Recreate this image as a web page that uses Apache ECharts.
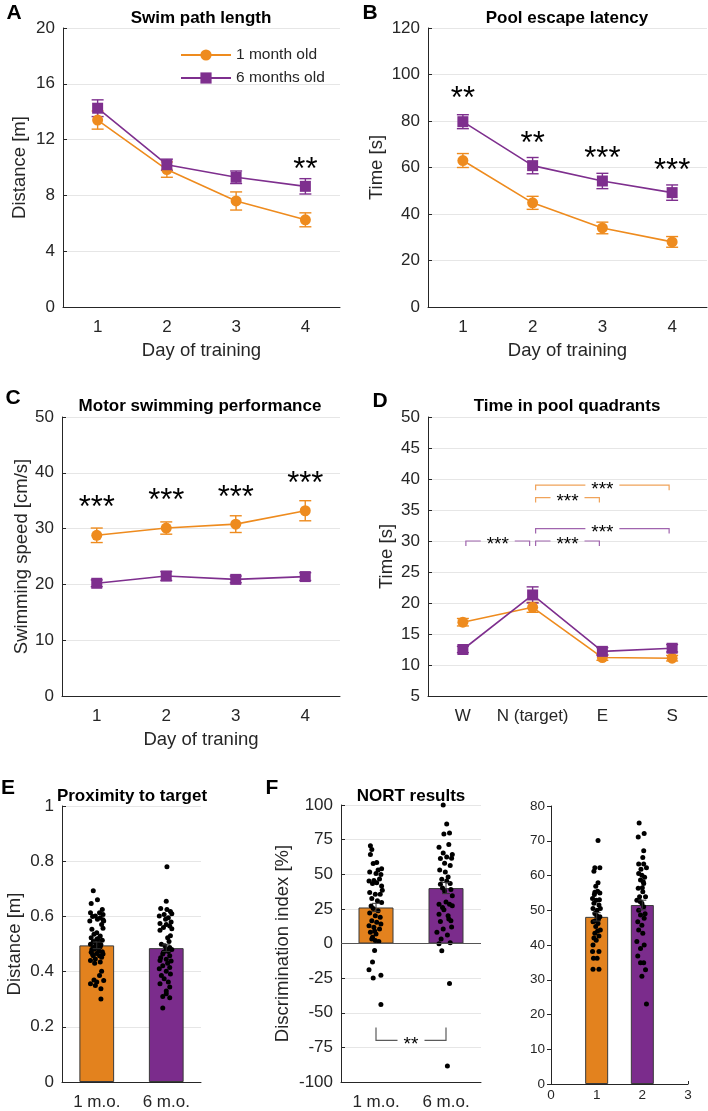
<!DOCTYPE html>
<html lang="en">
<head>
    <meta charset="UTF-8">
    <title>Water maze and NORT</title>
    <script type="text/javascript" src="https://cdn.jsdelivr.net/npm/echarts@6/dist/echarts.min.js"></script>
    <style>
        html, body { margin: 0; padding: 0; background: #fff; }
    </style>
</head>
<body>
<div id="main" style="width: 708px; height: 1111px;"></div>
<script type="text/javascript">
    // ---- data ----
    var days = ['1', '2', '3', '4'];
    var quadrants = ['W', 'N (target)', 'E', 'S'];
    var groups = ['1 m.o.', '6 m.o.'];

    // A: swim path length [m]
    var pathOne = [13.4, 9.85, 7.6, 6.25];
    var pathOneErr = [0.65, 0.55, 0.65, 0.5];
    var pathSix = [14.25, 10.2, 9.3, 8.65];
    var pathSixErr = [0.6, 0.4, 0.45, 0.55];
    var pathStarDay = [3];
    var pathStarY = [10.3];
    var pathStarTxt = ['**'];

    // B: escape latency [s]
    var latOne = [63.0, 44.8, 34.0, 28.0];
    var latOneErr = [3.0, 2.8, 2.5, 2.3];
    var latSix = [79.7, 60.8, 54.2, 49.2];
    var latSixErr = [3.0, 3.5, 3.3, 3.3];
    var latStarDay = [0, 1, 2, 3];
    var latStarY = [92.0, 72.7, 66.2, 61.2];
    var latStarTxt = ['**', '**', '***', '***'];

    // C: swimming speed [cm/s]
    var speedOne = [28.8, 30.1, 30.8, 33.2];
    var speedOneErr = [1.3, 1.1, 1.5, 1.8];
    var speedSix = [20.2, 21.5, 20.9, 21.4];
    var speedSixErr = [0.6, 0.8, 0.6, 0.7];
    var speedStarDay = [0, 1, 2, 3];
    var speedStarY = [34.8, 36.1, 36.7, 39.1];
    var speedStarTxt = ['***', '***', '***', '***'];

    // D: time in quadrants [s]
    var quadOne = [16.9, 19.3, 11.2, 11.1];
    var quadOneErr = [0.6, 0.8, 0.45, 0.45];
    var quadSix = [12.5, 21.3, 12.2, 12.7];
    var quadSixErr = [0.5, 1.3, 0.6, 0.6];
    // [from, y, to]
    var quadBracketsOne = [[1, 39, 3], [1, 37, 2]];
    var quadBracketsSix = [[1, 32, 3], [1, 30, 2], [0, 30, 1]];
    var quadBracketTxt = '***';

    // E: proximity to target [m]
    var proxMean = [0.495, 0.485];
    var proxErr = [0.012, 0.012];
    var proxDotsOne = [[-0.05,0.693],[0.01,0.660],[-0.08,0.647],[0.08,0.625],[-0.09,0.613],[0.04,0.613],[0.09,0.607],
        [-0.02,0.601],[0.05,0.595],[0.09,0.588],[-0.10,0.583],[0.10,0.583],[0.01,0.590],[-0.06,0.600],[0.07,0.571],
        [-0.07,0.553],[0.09,0.557],[0.00,0.541],[-0.04,0.535],[0.05,0.529],[-0.08,0.523],[0.02,0.520],[0.00,0.517],
        [0.08,0.514],[-0.05,0.509],[0.03,0.505],[-0.01,0.500],[-0.09,0.499],[-0.02,0.493],[0.06,0.497],[0.05,0.490],
        [-0.05,0.487],[0.02,0.484],[-0.07,0.480],[-0.04,0.481],[0.03,0.475],[0.08,0.472],[-0.08,0.470],[0.00,0.466],
        [0.09,0.464],[-0.06,0.462],[-0.05,0.457],[0.04,0.457],[0.07,0.452],[-0.02,0.446],[-0.09,0.440],[0.05,0.435],
        [-0.03,0.430],[0.07,0.401],[0.04,0.386],[-0.04,0.370],[0.10,0.368],[0.00,0.362],[-0.09,0.356],[-0.02,0.350],
        [0.06,0.338],[0.06,0.301]];
    var proxDotsSix = [[0.01,0.780],[0.00,0.655],[-0.08,0.629],[0.01,0.625],[0.06,0.618],[-0.10,0.601],[-0.03,0.607],
        [0.03,0.595],[0.08,0.610],[-0.01,0.590],[0.07,0.580],[-0.09,0.574],[0.00,0.571],[0.05,0.565],[-0.04,0.560],
        [-0.09,0.550],[0.08,0.555],[0.02,0.523],[0.06,0.530],[-0.07,0.499],[0.04,0.509],[-0.02,0.494],[0.00,0.481],
        [0.05,0.487],[0.08,0.480],[-0.04,0.470],[0.03,0.473],[-0.05,0.464],[0.05,0.457],[-0.08,0.450],[-0.09,0.440],
        [0.00,0.445],[0.07,0.438],[0.02,0.430],[-0.05,0.421],[0.05,0.415],[-0.10,0.410],[0.00,0.401],[-0.07,0.386],
        [0.06,0.391],[-0.03,0.374],[0.03,0.362],[-0.09,0.356],[0.05,0.344],[0.00,0.330],[0.00,0.320],[-0.05,0.310],
        [0.05,0.305],[-0.05,0.268]];

    // F: NORT discrimination index [%]
    var nortMean = [26, 40];
    var nortErr = [3, 4];
    var nortDotsOne = [[-0.08,70.6],[-0.06,67.8],[-0.08,64.2],[-0.04,57.8],[0.01,58.5],[0.08,53.9],[0.03,53.0],
        [-0.09,51.6],[0.00,50.6],[0.07,49.9],[-0.03,45.5],[0.05,46.5],[-0.10,45.1],[-0.05,43.4],[0.01,43.9],
        [0.08,41.5],[0.09,38.5],[-0.09,36.8],[-0.01,35.6],[0.06,35.6],[-0.06,32.5],[0.02,30.8],[0.08,29.6],
        [-0.07,27.0],[-0.04,25.3],[0.03,23.6],[-0.09,22.0],[-0.01,20.0],[0.06,18.9],[-0.06,16.5],[0.01,15.3],
        [0.07,14.0],[-0.10,12.9],[-0.03,11.7],[0.05,10.5],[-0.02,9.0],[-0.08,8.1],[0.00,6.9],[-0.05,4.5],
        [-0.06,3.3],[-0.01,2.1],[0.04,1.5],[-0.02,-5.0],[-0.05,-13.4],[-0.10,-18.9],[-0.04,-24.9],[0.07,-23.0],
        [0.07,-44.0]];
    var nortDotsSix = [[-0.04,100],[0.01,86.2],[-0.03,79.0],[0.05,79.7],[0.04,71.4],[-0.10,69.5],[-0.04,65.4],
        [0.09,64.2],[0.01,62.5],[0.08,61.5],[-0.08,61.3],[-0.02,58.0],[0.06,56.3],[-0.09,53.0],[-0.01,51.6],
        [0.03,48.0],[-0.06,46.3],[0.01,45.1],[0.06,43.4],[-0.08,42.7],[-0.05,40.0],[0.07,39.0],[-0.02,37.9],
        [0.09,34.4],[0.00,30.0],[-0.10,28.4],[0.05,28.4],[0.09,27.2],[-0.05,26.0],[-0.03,24.3],[-0.10,21.2],
        [0.03,20.0],[0.04,17.7],[0.07,16.5],[-0.08,15.8],[0.08,12.0],[-0.04,10.5],[-0.13,8.1],[0.02,6.2],
        [-0.07,3.3],[0.06,0.5],[-0.10,-0.2],[-0.06,-5.2],[0.05,-28.9],[0.02,-88.5]];
    var nortBracket = [[0, -70, 1]];
    var nortBracketTxt = '**';

    // F (right): second NORT measure
    var nortRawX = [1, 2];
    var nortRawMean = [48.1, 51.5];
    var nortRawErr = [1.2, 1.4];
    var nortRawDotsOne = [[0.03,70.1],[-0.04,62.2],[0.07,62.2],[-0.06,61.2],[0.03,57.9],[-0.02,56.9],[0.02,55.5],
        [-0.04,55.2],[0.07,55.0],[-0.05,54.5],[-0.09,53.4],[0.06,53.0],[-0.01,52.9],[-0.06,52.0],[0.05,51.5],
        [-0.08,50.5],[0.08,50.5],[0.01,50.0],[-0.04,49.1],[0.00,48.5],[0.07,48.1],[0.04,47.5],[-0.03,47.0],
        [-0.08,46.7],[0.03,46.2],[-0.02,45.3],[0.08,44.3],[0.02,44.0],[-0.04,43.4],[0.05,42.6],[-0.06,42.0],
        [-0.01,41.4],[-0.08,40.0],[-0.09,38.1],[0.05,38.1],[-0.07,36.2],[0.01,36.2],[-0.08,33.0],[0.05,33.0]];
    var nortRawDotsSix = [[-0.07,75.1],[0.04,72.1],[-0.09,71.1],[0.03,67.1],[0.01,65.2],[-0.08,63.3],[0.03,63.3],
        [0.09,62.2],[-0.03,61.8],[-0.08,60.6],[-0.01,60.1],[0.05,59.5],[-0.04,58.7],[0.02,58.2],[0.03,57.7],
        [0.00,56.5],[-0.09,56.3],[0.01,55.3],[-0.06,53.9],[0.07,53.9],[-0.12,52.9],[-0.05,52.5],[-0.01,52.0],
        [0.03,51.0],[-0.08,50.0],[0.06,49.0],[-0.04,48.6],[0.04,47.7],[-0.10,46.7],[-0.01,45.7],[-0.08,44.3],
        [0.01,43.4],[-0.12,41.0],[0.04,40.0],[-0.04,39.0],[-0.10,36.8],[-0.04,34.9],[0.03,34.9],[0.07,32.9],
        [-0.01,31.0],[0.09,23.0]];

    // ---- styles ----
    var orange = '#EE8B1E';
    var purple = '#7E2F8E';
    var barOrange = '#E3821E';
    var barPurple = '#7B2C8C';
    var axisColor = '#262626';
    var gridColor = '#E6E6E6';
    var font = "'Liberation Sans', Arial, sans-serif";

    function catX(gi, data, name) {
        return {
            type: 'category', gridIndex: gi, data: data, boundaryGap: true,
            name: name, nameLocation: 'middle', nameGap: 34,
            nameTextStyle: {fontSize: 18.5, color: axisColor, fontFamily: font},
            axisLine: {onZero: false, lineStyle: {color: axisColor, width: 1}},
            axisTick: {alignWithLabel: true, inside: true, length: 4, lineStyle: {color: axisColor}},
            axisLabel: {interval: 0, fontSize: 17, color: axisColor, margin: 12, fontFamily: font},
            splitLine: {show: false}
        };
    }

    function hiddenX(gi, min, max) {
        return {type: 'value', gridIndex: gi, min: min, max: max, show: false, splitLine: {show: false}};
    }

    function valY(gi, min, max, step, name, gap) {
        return {
            type: 'value', gridIndex: gi, min: min, max: max, interval: step,
            name: name, nameLocation: 'middle', nameGap: gap,
            nameTextStyle: {fontSize: 18.5, color: axisColor, fontFamily: font},
            axisLine: {show: true, onZero: false, lineStyle: {color: axisColor, width: 1}},
            axisTick: {show: true, inside: true, length: 4, lineStyle: {color: axisColor}},
            axisLabel: {fontSize: 17, color: axisColor, margin: 8, fontFamily: font},
            splitLine: {show: true, lineStyle: {color: gridColor, width: 1}}
        };
    }

    function errBars(color, cap, width) {
        return function (params, api) {
            var x = api.value(0), m = api.value(1), e = api.value(2);
            var t = api.coord([x, m + e]);
            var b = api.coord([x, m - e]);
            var h = cap / 2;
            var st = {stroke: color, lineWidth: width};
            return {
                type: 'group', children: [
                    {type: 'line', shape: {x1: t[0], y1: t[1], x2: b[0], y2: b[1]}, style: st},
                    {type: 'line', shape: {x1: t[0] - h, y1: t[1], x2: t[0] + h, y2: t[1]}, style: st},
                    {type: 'line', shape: {x1: b[0] - h, y1: b[1], x2: b[0] + h, y2: b[1]}, style: st}
                ]
            };
        };
    }

    function starText(labels, size, dy) {
        return function (params, api) {
            var p = api.coord([api.value(0), api.value(1)]);
            return {
                type: 'text', x: p[0], y: p[1] + dy,
                style: {
                    text: labels[params.dataIndex], fontSize: size, fontFamily: font,
                    fill: '#000', align: 'center', verticalAlign: 'middle'
                }
            };
        };
    }

    function bracket(color, text, size, drop, gap, inset) {
        return function (params, api) {
            var a = api.coord([api.value(0), api.value(1)]);
            var b = api.coord([api.value(2), api.value(1)]);
            var x1 = a[0] + inset, x2 = b[0] - inset, y = a[1];
            var mid = (x1 + x2) / 2;
            var st = {stroke: color, lineWidth: 1.2, fill: null};
            return {
                type: 'group', children: [
                    {type: 'polyline', shape: {points: [[x1, y + drop], [x1, y], [mid - gap, y]]}, style: st},
                    {type: 'polyline', shape: {points: [[mid + gap, y], [x2, y], [x2, y + drop]]}, style: st},
                    {
                        type: 'text', x: mid, y: y + size * 0.22,
                        style: {
                            text: text, fontSize: size, fontFamily: font, fill: '#000',
                            align: 'center', verticalAlign: 'middle'
                        }
                    }
                ]
            };
        };
    }

    function zipErr(means, errs, xs) {
        return means.map(function (m, i) {
            return [xs ? xs[i] : i, m, errs[i]];
        });
    }

    function zipXY(xs, ys) {
        return xs.map(function (x, i) {
            return [x, ys[i]];
        });
    }

    function shiftDots(dots, center) {
        return dots.map(function (d) {
            return [center + d[0], d[1]];
        });
    }

    function lineSeries(name, gi, data, color, symbol) {
        return {
            name: name, type: 'line', xAxisIndex: gi, yAxisIndex: gi, data: data,
            symbol: symbol, symbolSize: 11, z: 4,
            lineStyle: {color: color, width: 1.6}, itemStyle: {color: color}
        };
    }

    function errSeries(gi, data, color, cap) {
        return {
            type: 'custom', xAxisIndex: gi, yAxisIndex: gi, data: data, z: 3,
            renderItem: errBars(color, cap, 1.4), silent: true
        };
    }

    function starSeries(gi, xs, ys, labels, size) {
        return {
            type: 'custom', xAxisIndex: gi, yAxisIndex: gi, data: zipXY(xs, ys), z: 5,
            renderItem: starText(labels, size, size * 0.22), silent: true
        };
    }

    var series = [
        // A
        errSeries(0, zipErr(pathOne, pathOneErr), orange, 12),
        errSeries(0, zipErr(pathSix, pathSixErr), purple, 12),
        lineSeries('1 month old', 0, pathOne, orange, 'circle'),
        lineSeries('6 months old', 0, pathSix, purple, 'rect'),
        starSeries(0, pathStarDay, pathStarY, pathStarTxt, 31),
        // B
        errSeries(1, zipErr(latOne, latOneErr), orange, 12),
        errSeries(1, zipErr(latSix, latSixErr), purple, 12),
        lineSeries('B one', 1, latOne, orange, 'circle'),
        lineSeries('B six', 1, latSix, purple, 'rect'),
        starSeries(1, latStarDay, latStarY, latStarTxt, 31),
        // C
        errSeries(2, zipErr(speedOne, speedOneErr), orange, 12),
        errSeries(2, zipErr(speedSix, speedSixErr), purple, 12),
        lineSeries('C one', 2, speedOne, orange, 'circle'),
        lineSeries('C six', 2, speedSix, purple, 'rect'),
        starSeries(2, speedStarDay, speedStarY, speedStarTxt, 31),
        // D
        errSeries(3, zipErr(quadOne, quadOneErr), orange, 12),
        errSeries(3, zipErr(quadSix, quadSixErr), purple, 12),
        lineSeries('D one', 3, quadOne, orange, 'circle'),
        lineSeries('D six', 3, quadSix, purple, 'rect'),
        {
            type: 'custom', xAxisIndex: 3, yAxisIndex: 3, data: quadBracketsOne, z: 5, silent: true,
            encode: {x: [0, 2], y: 1},
            renderItem: bracket('#F0A35A', quadBracketTxt, 19, 5, 17, 3)
        },
        {
            type: 'custom', xAxisIndex: 3, yAxisIndex: 3, data: quadBracketsSix, z: 5, silent: true,
            encode: {x: [0, 2], y: 1},
            renderItem: bracket('#A064AE', quadBracketTxt, 19, 5, 17, 3)
        },
        // E
        {
            type: 'bar', xAxisIndex: 4, yAxisIndex: 4, barWidth: '50%', z: 2,
            data: [
                {value: proxMean[0], itemStyle: {color: barOrange}},
                {value: proxMean[1], itemStyle: {color: barPurple}}
            ],
            itemStyle: {borderColor: '#3a3a3a', borderWidth: 1}
        },
        {
            type: 'scatter', xAxisIndex: 7, yAxisIndex: 4, symbolSize: 5, z: 4,
            itemStyle: {color: '#000', opacity: 1},
            data: shiftDots(proxDotsOne, 0).concat(shiftDots(proxDotsSix, 1))
        },
        {
            type: 'custom', xAxisIndex: 7, yAxisIndex: 4, data: zipErr(proxMean, proxErr), z: 5, silent: true,
            renderItem: errBars('#333', 8, 1)
        },
        // F left
        {
            type: 'bar', xAxisIndex: 5, yAxisIndex: 5, barWidth: '50%', z: 2,
            data: [
                {value: nortMean[0], itemStyle: {color: barOrange}},
                {value: nortMean[1], itemStyle: {color: barPurple}}
            ],
            itemStyle: {borderColor: '#3a3a3a', borderWidth: 1},
            markLine: {
                silent: true, symbol: 'none', label: {show: false},
                lineStyle: {color: '#555', type: 'solid', width: 1},
                data: [{yAxis: 0}]
            }
        },
        {
            type: 'scatter', xAxisIndex: 8, yAxisIndex: 5, symbolSize: 5, z: 4,
            itemStyle: {color: '#000', opacity: 1},
            data: shiftDots(nortDotsOne, 0).concat(shiftDots(nortDotsSix, 1))
        },
        {
            type: 'custom', xAxisIndex: 8, yAxisIndex: 5, data: zipErr(nortMean, nortErr), z: 5, silent: true,
            renderItem: errBars('#333', 8, 1)
        },
        {
            type: 'custom', xAxisIndex: 8, yAxisIndex: 5, data: nortBracket, z: 5, silent: true,
            encode: {x: [0, 2], y: 1},
            renderItem: bracket('#5a5a5a', nortBracketTxt, 19, -13, 13.5, 0)
        },
        // F right
        {
            type: 'bar', xAxisIndex: 6, yAxisIndex: 6, barWidth: 23, z: 2,
            data: [
                {value: [nortRawX[0], nortRawMean[0]], itemStyle: {color: barOrange}},
                {value: [nortRawX[1], nortRawMean[1]], itemStyle: {color: barPurple}}
            ],
            itemStyle: {borderColor: '#3a3a3a', borderWidth: 1}
        },
        {
            type: 'scatter', xAxisIndex: 6, yAxisIndex: 6, symbolSize: 5, z: 4,
            itemStyle: {color: '#000', opacity: 1},
            data: shiftDots(nortRawDotsOne, nortRawX[0]).concat(shiftDots(nortRawDotsSix, nortRawX[1]))
        },
        {
            type: 'custom', xAxisIndex: 6, yAxisIndex: 6, data: zipErr(nortRawMean, nortRawErr, nortRawX), z: 5,
            silent: true, renderItem: errBars('#333', 8, 1)
        }
    ];

    var titles = [
        ['Swim path length', 201, 18], ['Pool escape latency', 567, 18],
        ['Motor swimming performance', 200, 406], ['Time in pool quadrants', 567, 406],
        ['Proximity to target', 132, 796], ['NORT results', 411, 796]
    ];
    var letters = [['A', 14, 13], ['B', 370, 13], ['C', 13, 398], ['D', 380, 401], ['E', 8, 788], ['F', 272, 788]];

    var graphics = titles.map(function (t) {
        return {
            type: 'text', x: t[1], y: t[2],
            style: {text: t[0], fontSize: 17, fontWeight: 'bold', fontFamily: font, fill: '#000',
                align: 'center', verticalAlign: 'middle'}
        };
    }).concat(letters.map(function (t) {
        return {
            type: 'text', x: t[1], y: t[2],
            style: {text: t[0], fontSize: 21, fontWeight: 'bold', fontFamily: font, fill: '#000',
                align: 'center', verticalAlign: 'middle'}
        };
    }));

    var rawY = valY(6, 0, 80, 10, '', 0);
    rawY.axisTick = {show: true, inside: false, length: 4, lineStyle: {color: axisColor}};
    rawY.axisLabel = {fontSize: 13.5, color: axisColor, margin: 6, fontFamily: font};
    rawY.splitLine = {show: false};

    var option = {
        animation: false,
        backgroundColor: '#fff',
        textStyle: {fontFamily: font},
        legend: {
            data: ['1 month old', '6 months old'], left: 180, top: 47, orient: 'vertical',
            itemWidth: 50, itemHeight: 14, itemGap: 7, padding: 0,
            textStyle: {fontSize: 15.5, color: axisColor, fontFamily: font}
        },
        grid: [
            {left: 63, top: 28, width: 277, height: 279},
            {left: 428, top: 28, width: 279, height: 279},
            {left: 62, top: 417, width: 278, height: 279},
            {left: 428, top: 417, width: 279, height: 279},
            {left: 62, top: 806, width: 139, height: 278},
            {left: 341, top: 805, width: 140, height: 279},
            {left: 551, top: 806, width: 137, height: 278}
        ],
        xAxis: [
            catX(0, days, 'Day of training'),
            catX(1, days, 'Day of training'),
            catX(2, days, 'Day of traning'),
            catX(3, quadrants, ''),
            catX(4, groups, ''),
            catX(5, groups, ''),
            {
                type: 'value', gridIndex: 6, min: 0, max: 3, interval: 1,
                axisLine: {onZero: false, lineStyle: {color: axisColor}},
                axisTick: {show: true, inside: true, length: 3, lineStyle: {color: axisColor}},
                axisLabel: {fontSize: 13.5, color: axisColor, margin: 4, fontFamily: font},
                splitLine: {show: false}
            },
            hiddenX(4, -0.5, 1.5),
            hiddenX(5, -0.5, 1.5)
        ],
        yAxis: [
            valY(0, 0, 20, 4, 'Distance [m]', 34),
            valY(1, 0, 120, 20, 'Time [s]', 42),
            valY(2, 0, 50, 10, 'Swimming speed [cm/s]', 31),
            valY(3, 5, 50, 5, 'Time [s]', 32),
            valY(4, 0, 1, 0.2, 'Distance [m]', 38),
            valY(5, -100, 100, 25, 'Discrimination index [%]', 49),
            rawY
        ],
        graphic: graphics,
        series: series
    };

    var myChart = echarts.init(document.getElementById('main'), null, {renderer: 'canvas'});
    myChart.setOption(option);
</script>
</body>
</html>
